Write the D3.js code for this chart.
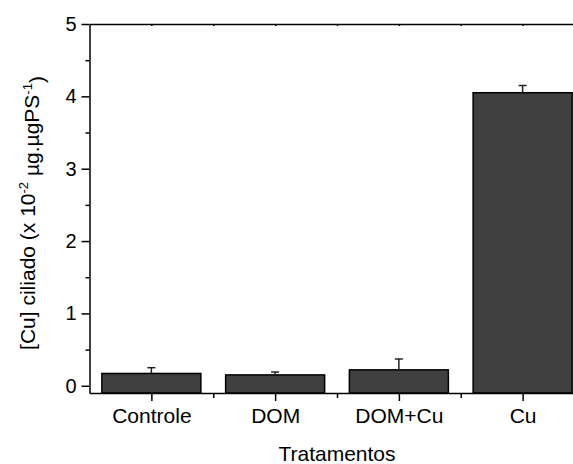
<!DOCTYPE html>
<html>
<head>
<meta charset="utf-8">
<script src="https://cdn.jsdelivr.net/npm/d3@7"></script>
<style>
  html, body { margin: 0; padding: 0; background: #fff; }
  svg { display: block; }
  text { font-family: "Liberation Sans", Arial, sans-serif; fill: #000; }
</style>
</head>
<body>
<svg id="chart" width="573" height="464"></svg>
<script>
const categories = ["Controle", "DOM", "DOM+Cu", "Cu"];
const values = [0.17, 0.15, 0.22, 4.05];
const errors = [0.08, 0.04, 0.15, 0.10];
const yTicks = [0, 1, 2, 3, 4, 5];
const yMinorTicks = [0.5, 1.5, 2.5, 3.5, 4.5];
const xTitle = "Tratamentos";

const svg = d3.select("#chart");
const mLeft = 89.5, mRight = 584.5, mTop = 24, mBottom = 393;

const x = d3.scaleLinear().domain([0.5, 4.5]).range([mLeft, mRight]);
const y = d3.scaleLinear().domain([-0.1, 5]).range([mBottom, mTop]);
const barW = (x(1) - x(0)) * 0.8;

// bars
const g = svg.append("g");
categories.forEach((c, i) => {
  const cx = x(i + 1);
  g.append("rect")
    .attr("x", cx - barW / 2)
    .attr("y", y(values[i]))
    .attr("width", barW)
    .attr("height", y(-0.1) - y(values[i]))
    .attr("fill", "#404040")
    .attr("stroke", "#000")
    .attr("stroke-width", 1.5);
  // error bars (upper only)
  g.append("line")
    .attr("x1", cx).attr("x2", cx)
    .attr("y1", y(values[i])).attr("y2", y(values[i] + errors[i]))
    .attr("stroke", "#222").attr("stroke-width", 1.5);
  g.append("line")
    .attr("x1", cx - 4).attr("x2", cx + 4)
    .attr("y1", y(values[i] + errors[i])).attr("y2", y(values[i] + errors[i]))
    .attr("stroke", "#222").attr("stroke-width", 1.5);
});

// left axis
const yAxis = svg.append("g").attr("transform", `translate(${mLeft},0)`)
  .call(d3.axisLeft(y).tickValues(yTicks).tickFormat(d3.format("d")).tickSize(8).tickSizeOuter(0).tickPadding(5));
const yMinor = svg.append("g").attr("transform", `translate(${mLeft},0)`)
  .call(d3.axisLeft(y).tickValues(yMinorTicks).tickFormat("").tickSize(4).tickSizeOuter(0));
yMinor.select(".domain").remove();
yAxis.selectAll("text").style("font-size", "20px").style("font-family", "Liberation Sans, Arial, sans-serif");

// bottom axis
const xAxis = svg.append("g").attr("transform", `translate(0,${mBottom})`)
  .call(d3.axisBottom(x).tickValues([1, 2, 3, 4]).tickFormat((d) => categories[d - 1]).tickSize(8).tickSizeOuter(0).tickPadding(7));
const xMinor = svg.append("g").attr("transform", `translate(0,${mBottom})`)
  .call(d3.axisBottom(x).tickValues([1.5, 2.5, 3.5]).tickFormat("").tickSize(5).tickSizeOuter(0));
xMinor.select(".domain").remove();
xAxis.selectAll("text").style("font-size", "21px").style("font-family", "Liberation Sans, Arial, sans-serif");

// top axis
const xTop = svg.append("g").attr("transform", `translate(0,${mTop})`)
  .call(d3.axisTop(x).tickValues([1, 1.5, 2, 2.5, 3, 3.5, 4]).tickFormat("").tickSize(-2).tickSizeOuter(0));

svg.selectAll(".domain").attr("stroke", "#000").attr("stroke-width", 1.5);
svg.selectAll(".tick line").attr("stroke", "#000").attr("stroke-width", 1.5);

// titles
svg.append("text")
  .attr("x", (mLeft + mRight) / 2).attr("y", 460.5)
  .attr("text-anchor", "middle")
  .style("font-size", "21px")
  .text(xTitle);

const yt = svg.append("text")
  .attr("transform", "translate(35,213) rotate(-90)")
  .attr("text-anchor", "middle")
  .style("font-size", "21px");
yt.append("tspan").text("[Cu] ciliado (x 10");
yt.append("tspan").attr("dy", "-0.55em").style("font-size", "13px").text("-2");
yt.append("tspan").attr("dy", "0.55em").text(" \u00b5g.\u00b5gPS");
yt.append("tspan").attr("dy", "-0.55em").style("font-size", "13px").text("-1");
yt.append("tspan").attr("dy", "0.55em").text(")");
</script>
</body>
</html>
